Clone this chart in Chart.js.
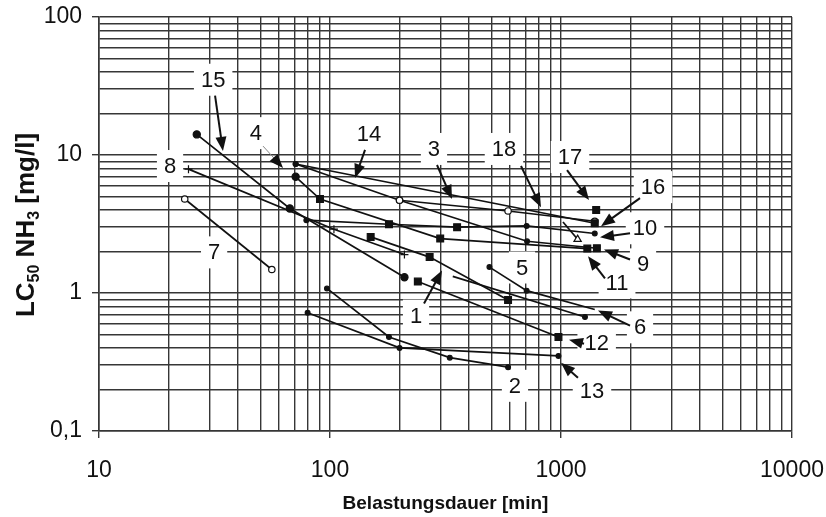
<!DOCTYPE html>
<html>
<head>
<meta charset="utf-8">
<script src="https://cdn.jsdelivr.net/npm/chart.js@4"></script>
<style>
  html, body { margin: 0; padding: 0; background: #fff; }
  #wrap { width: 826px; height: 517px; }
</style>
</head>
<body>
<div id="wrap"><canvas id="c" width="826" height="517"></canvas></div>
<script>
// ---- axis ticks ----
const xTickValues = [10,20,30,40,50,60,70,80,90,100,200,300,400,500,600,700,800,900,
                     1000,2000,3000,4000,5000,6000,7000,8000,9000,10000];
const yTickValues = [0.1,0.2,0.3,0.4,0.5,0.6,0.7,0.8,0.9,1,2,3,4,5,6,7,8,9,
                     10,20,30,40,50,60,70,80,90,100];
const xTickLabels = ['10', '100', '1000', '10000'];   // decades 10^1 .. 10^4
const yTickLabels = ['0,1', '1', '10', '100'];         // decades 10^-1 .. 10^2

// ---- series: exposure time [min] and LC50 NH3 [mg/l] ----
const s1x  = [150, 270, 590];            const s1y  = [2.55, 1.82, 0.89];
const s2x  = [97, 180, 330, 590];        const s2y  = [1.08, 0.48, 0.34, 0.29];
const s5x  = [490, 710, 1400];           const s5y  = [1.54, 1.04, 0.76];
const s6x  = [340, 1270];                const s6y  = [1.32, 0.67];
const s7x  = [23.5, 56];                 const s7y  = [4.8, 1.48];
const s8x  = [24.4, 104, 210];           const s8y  = [7.9, 2.9, 1.9];
const s9x  = [71, 200, 713, 1430];       const s9y  = [8.6, 4.7, 2.37, 2.11];
const s10x = [79, 180, 355, 710, 1400];  const s10y = [3.37, 3.15, 3.0, 3.06, 2.7];
const s11x = [71, 90.5, 300, 1300];      const s11y = [6.95, 4.79, 2.48, 2.1];
const s12x = [240, 975];                 const s12y = [1.21, 0.48];
const s13x = [80, 200, 975];             const s13y = [0.72, 0.40, 0.35];
const s14x = [71, 1400];                 const s14y = [8.6, 3.2];
const s15x = [26.5, 67, 210];            const s15y = [14.1, 4.1, 1.3];
const s16x = [1020, 1180];               const s16y = [3.27, 2.45];
const s17x = [1420];                     const s17y = [4.0];
const s18x = [200, 590, 1400];           const s18y = [4.7, 3.93, 3.31];

// ---- marker kinds per point ----
const s1m  = ['square', 'square', 'square'];
const s2m  = ['dot', 'dot', 'dot', 'dot'];
const s5m  = ['dot', 'dot', 'none'];
const s6m  = ['none', 'dot'];
const s7m  = ['open', 'open'];
const s8m  = ['cross', 'cross', 'cross'];
const s9m  = ['dot', 'open', 'dot', 'square'];
const s10m = ['dot', 'square', 'square', 'dot', 'dot'];
const s11m = ['circle', 'square', 'square', 'square'];
const s12m = ['square', 'square'];
const s13m = ['dot', 'dot', 'dot'];
const s14m = ['dot', 'square'];
const s15m = ['circle', 'circle', 'circle'];
const s16m = ['none', 'tri'];
const s17m = ['square'];
const s18m = ['open', 'open', 'open'];

const series = [
  [s1x, s1y, s1m], [s2x, s2y, s2m], [s5x, s5y, s5m], [s6x, s6y, s6m],
  [s7x, s7y, s7m], [s8x, s8y, s8m], [s9x, s9y, s9m], [s10x, s10y, s10m],
  [s11x, s11y, s11m], [s12x, s12y, s12m], [s13x, s13y, s13m], [s14x, s14y, s14m],
  [s15x, s15y, s15m], [s16x, s16y, s16m], [s17x, s17y, s17m], [s18x, s18y, s18m]
];

// ---- number tags with leader arrows (data coordinates) ----
// [text, labelX, labelY, arrowFromX, arrowFromY, arrowToX, arrowToY, thin]
const tags = [
  ['15', 31.2, 35.1,  31.8, 26.9, 34.4, 10.7],
  ['4',  47.8, 14.4,  51.3, 11.6, 62.6, 8.05, true],
  ['14', 147.5, 14.2, 141.8, 10.9, 128.3, 6.8],
  ['3',  281.9, 11.06, 290.5, 8.46, 337.4, 4.79],
  ['18', 566.5, 11.06, 671, 8.32, 819, 4.19],
  ['17', 1094, 9.67,  1062, 7.78, 1322, 4.71],
  ['16', 2502, 5.85,  2198, 4.87, 1490, 3.05],
  ['10', 2310, 2.945, 1990, 2.71, 1475, 2.53],
  ['9',  2265, 1.612, 1990, 1.75, 1535, 2.07],
  ['11', 1748, 1.192, 1550, 1.275, 1309, 1.843],
  ['8',  20.3, 8.32],
  ['7',  31.5, 1.97],
  ['5',  678, 1.53],
  ['1',  235.7, 0.686, 255.3, 0.839, 305.3, 1.457],
  ['6',  2198, 0.564, 1990, 0.58, 1446, 0.746],
  ['12', 1427, 0.4315, 1258, 0.429, 1083, 0.459],
  ['2',  632, 0.2125],
  ['13', 1362, 0.1954, 1184, 0.243, 1000, 0.312]
];

const FONT = '"Liberation Sans", Arial, Helvetica, sans-serif';
const INK = '#111';
const GRID = '#363636';

function isDecade(v) {
  const e = Math.log10(v);
  return Math.abs(e - Math.round(e)) < 1e-6;
}

const markerLook = {
  dot:    { style: 'circle',   r: 2.4, fill: INK },
  circle: { style: 'circle',   r: 3.6, fill: INK },
  open:   { style: 'circle',   r: 3.2, fill: '#fff' },
  square: { style: 'rect',     r: 4.8, fill: INK },
  cross:  { style: 'cross',    r: 4.0, fill: INK },
  tri:    { style: 'triangle', r: 4.2, fill: '#fff' },
  none:   { style: 'circle',   r: 0,   fill: INK }
};

const datasets = series.map(([xs, ys, ms]) => ({
  data: xs.map((x, i) => ({ x: x, y: ys[i] })),
  showLine: true,
  borderColor: INK,
  borderWidth: 1.7,
  tension: 0,
  pointStyle: ms.map(m => markerLook[m].style),
  pointRadius: ms.map(m => markerLook[m].r),
  pointBackgroundColor: ms.map(m => markerLook[m].fill),
  pointBorderColor: INK,
  pointBorderWidth: 1.2,
  pointHoverRadius: ms.map(m => markerLook[m].r)
}));

function tagGeometry(chart, t) {
  const xs = chart.scales.x, ys = chart.scales.y;
  const ctx = chart.ctx;
  ctx.font = '22px ' + FONT;
  const w = ctx.measureText(t[0]).width;
  return { cx: xs.getPixelForValue(t[1]), cy: ys.getPixelForValue(t[2]), w: w };
}

const tagPlugin = {
  id: 'tags',
  beforeDatasetsDraw(chart) {
    const ctx = chart.ctx;
    ctx.save();
    ctx.fillStyle = '#fff';
    tags.forEach(t => {
      const g = tagGeometry(chart, t);
      const bw = g.w + 14, bh = 32;
      ctx.fillRect(g.cx - bw / 2, g.cy - bh / 2, bw, bh);
    });
    ctx.restore();
  },
  afterDatasetsDraw(chart) {
    const ctx = chart.ctx;
    const xs = chart.scales.x, ys = chart.scales.y;
    ctx.save();
    tags.forEach(t => {
      const g = tagGeometry(chart, t);
      ctx.fillStyle = INK;
      ctx.font = '22px ' + FONT;
      ctx.textAlign = 'center';
      ctx.textBaseline = 'middle';
      ctx.fillText(t[0], g.cx, g.cy + 1);
      if (t.length >= 7) {
        const x1 = xs.getPixelForValue(t[3]), y1 = ys.getPixelForValue(t[4]);
        const x2 = xs.getPixelForValue(t[5]), y2 = ys.getPixelForValue(t[6]);
        const len = Math.hypot(x2 - x1, y2 - y1);
        const ux = (x2 - x1) / len, uy = (y2 - y1) / len;
        const L = 14, W = 5.5;
        const bx = x2 - ux * L, by = y2 - uy * L;
        ctx.strokeStyle = t[7] ? '#888' : INK;
        ctx.lineWidth = t[7] ? 1 : 2;
        ctx.beginPath();
        ctx.moveTo(x1, y1);
        ctx.lineTo(bx + ux * 2, by + uy * 2);
        ctx.stroke();
        ctx.fillStyle = INK;
        ctx.beginPath();
        ctx.moveTo(x2, y2);
        ctx.lineTo(bx - uy * W, by + ux * W);
        ctx.lineTo(bx + uy * W, by - ux * W);
        ctx.closePath();
        ctx.fill();
      }
    });
    ctx.restore();
  }
};

// rotated y-axis title with subscripts
const yTitlePlugin = {
  id: 'yTitle',
  afterDraw(chart) {
    const ctx = chart.ctx;
    const parts = [['LC', false], ['50', true], [' NH', false], ['3', true], [' [mg/l]', false]];
    const big = 'bold 26px ' + FONT, small = 'bold 16px ' + FONT;
    let total = 0;
    parts.forEach(p => { ctx.font = p[1] ? small : big; total += ctx.measureText(p[0]).width; });
    const area = chart.chartArea;
    ctx.save();
    ctx.translate(25, (area.top + area.bottom) / 2 + 1);
    ctx.rotate(-Math.PI / 2);
    ctx.fillStyle = INK;
    ctx.textBaseline = 'alphabetic';
    ctx.textAlign = 'left';
    let u = -total / 2;
    const capH = 18.5;
    parts.forEach(p => {
      ctx.font = p[1] ? small : big;
      ctx.fillText(p[0], u, p[1] ? capH / 2 + 5 : capH / 2);
      u += ctx.measureText(p[0]).width;
    });
    ctx.restore();
  }
};

new Chart(document.getElementById('c'), {
  type: 'scatter',
  data: { datasets: datasets },
  options: {
    responsive: false,
    animation: false,
    devicePixelRatio: 1,
    layout: { padding: { top: 17, right: 34, bottom: 0, left: 0 } },
    plugins: { legend: { display: false }, tooltip: { enabled: false } },
    scales: {
      x: {
        type: 'logarithmic',
        min: 10, max: 10000,
        afterBuildTicks: s => { s.ticks = xTickValues.map(v => ({ value: v })); },
        afterFit: s => { s.height = 86; s.paddingLeft = 0; s.paddingRight = 0; },
        grid: {
          color: GRID, lineWidth: 1.4, drawTicks: true, tickLength: 7,
          tickColor: c => (c.tick && isDecade(c.tick.value)) ? GRID : 'rgba(0,0,0,0)'
        },
        border: { display: true, color: GRID, width: 1.6 },
        ticks: {
          autoSkip: false, maxRotation: 0, minRotation: 0, padding: 19,
          color: INK, font: { family: FONT, size: 23 },
          callback: v => isDecade(v) ? xTickLabels[Math.round(Math.log10(v)) - 1] : ''
        },
        title: {
          display: true, text: 'Belastungsdauer [min]', color: INK,
          font: { family: FONT, size: 19, weight: 'bold' },
          padding: { top: 0, bottom: 2 }
        }
      },
      y: {
        type: 'logarithmic',
        min: 0.1, max: 100,
        afterBuildTicks: s => { s.ticks = yTickValues.map(v => ({ value: v })); },
        afterFit: s => { s.width = 99; s.paddingTop = 0; s.paddingBottom = 0; },
        grid: {
          color: GRID, lineWidth: 1.4, drawTicks: true, tickLength: 7,
          tickColor: c => (c.tick && isDecade(c.tick.value)) ? GRID : 'rgba(0,0,0,0)'
        },
        border: { display: true, color: GRID, width: 1.6 },
        ticks: {
          autoSkip: false, padding: 10,
          color: INK, font: { family: FONT, size: 23 },
          callback: v => isDecade(v) ? yTickLabels[Math.round(Math.log10(v)) + 1] : ''
        }
      }
    }
  },
  plugins: [tagPlugin, yTitlePlugin]
});
</script>
</body>
</html>
